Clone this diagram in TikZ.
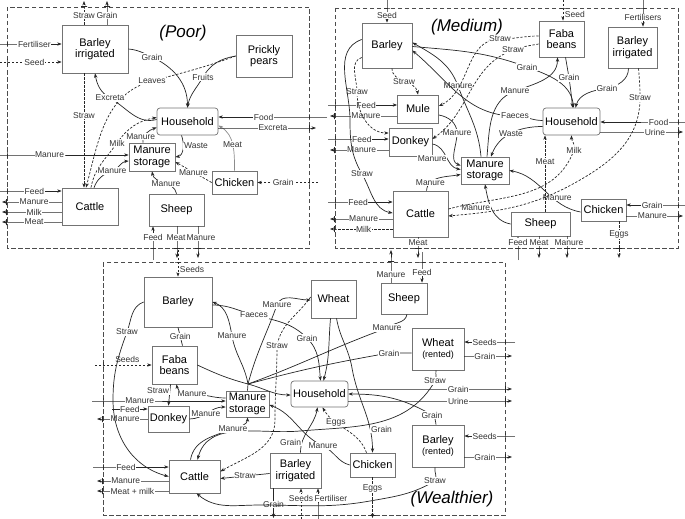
\documentclass[tikz,border=0pt]{standalone}
\usepackage{fontspec}
\setmainfont{Liberation Sans}
\usetikzlibrary{arrows.meta, calc}

\tikzset{
  box/.style={draw=black!55, line width=0.7pt, fill=white, align=center, inner sep=1pt,
    font=\fontsize{11}{11.5}\selectfont},
  hbox/.style={box, rounded corners=3pt},
  lbl/.style={fill=white, inner sep=0.6pt, text=black!80, font=\fontsize{8.5}{9}\selectfont},
  flow/.style={-{Stealth[length=4.5pt,width=3.4pt]}, line width=0.7pt, draw=black!85},
  dflow/.style={flow, dash pattern=on 2.4pt off 1.6pt},
  link/.style={line width=0.7pt, draw=black!85},
  tkh/.style={draw, solid, inner sep=0pt, minimum width=0pt, minimum height=6pt, line width=0.6pt},
  tkv/.style={draw, solid, inner sep=0pt, minimum width=6pt, minimum height=0pt, line width=0.6pt},
  frame/.style={draw=black!70, line width=0.9pt, dash pattern=on 4.5pt off 2.5pt},
  title/.style={font=\fontsize{17}{18}\selectfont\itshape}
}

\begin{document}
\begin{tikzpicture}[x=1pt, y=-1pt]
\useasboundingbox (0,0) rectangle (685,519);

% ---------------- poor farm
\draw[frame] (7,7) rectangle (309,248);
\node[title] (pTitle) at (183,33) {(Poor)};
\node[box, minimum width=66pt, minimum height=48pt] (pBarI) at (95,49) {Barley\\irrigated};
\node[box, minimum width=56pt, minimum height=42pt] (pPear) at (264,56) {Prickly\\pears};
\node[hbox, minimum width=61pt, minimum height=27pt] (pHouse) at (187.5,121.5) {Household};
\node[box, minimum width=46pt, minimum height=28pt] (pStore) at (152,157) {Manure\\storage};
\node[box, minimum width=45pt, minimum height=23pt] (pChick) at (234.5,182.5) {Chicken};
\node[box, minimum width=56pt, minimum height=37pt] (pCattle) at (90,206.5) {Cattle};
\node[box, minimum width=55pt, minimum height=32pt] (pSheep) at (176.5,210) {Sheep};

\coordinate (pInFert) at (0,44);
\coordinate (pInSeed) at (0,62);
\coordinate (pOutStraw) at (84,1);
\coordinate (pOutGrain) at (107,1);
\coordinate (pInFood) at (327,117);
\coordinate (pOutExcr) at (316,128);
\coordinate (pInGrain) at (318,182.5);
\coordinate (pInMan) at (0,155);
\coordinate (pInFeedC) at (0,191);
\coordinate (pOutManC) at (2,202);
\coordinate (pOutMilkC) at (2,212);
\coordinate (pOutMeatC) at (2,222);
\coordinate (pInFeedS) at (153,260);
\coordinate (pOutMeatS) at (177,258);
\coordinate (pOutManS) at (198,258);

\draw[flow] (pInFert) -- ++(7,0) node[tkh]{} -- node[lbl]{Fertiliser} (pInFert -| pBarI.west);
\draw[dflow] (pInSeed) -- ++(7,0) node[tkh]{} -- node[lbl]{Seed} (pInSeed -| pBarI.west);
\draw[dflow] (pOutStraw |- pBarI.north) -- node[lbl]{Straw} ++(0,-18) node[tkv]{} -- (pOutStraw);
\draw[flow] (pOutGrain |- pBarI.north) -- node[lbl]{Grain} ++(0,-18) node[tkv]{} -- (pOutGrain);
\draw[flow] (pBarI.east) to[out=-5,in=155] (152,57) node[lbl]{Grain} to[out=-25,in=90] (pHouse.north);
\draw[flow] (pPear.west) to[out=190,in=60] (203,77) node[lbl]{Fruits} to[out=240,in=80] (pHouse.north);
\draw[dflow] (pPear.west) to[out=200,in=15] (152,81) node[lbl]{Leaves} to[out=195,in=75] ([xshift=-4pt]pCattle.north);
\draw[dflow] (pOutStraw |- pBarI.south) -- node[lbl,pos=0.37]{Straw} (pOutStraw |- pCattle.north);
\draw[flow] ([yshift=2pt]pHouse.west) to[out=195,in=-30] (110,98) node[lbl]{Excreta} to[out=150,in=-80] (pBarI.south);
\draw[dflow] ([xshift=1pt]pCattle.north) to[out=80,in=235] (117,143) node[lbl]{Milk} to[out=55,in=190] ([yshift=4pt]pHouse.west);
\draw[flow] ([xshift=4pt]pCattle.north) to[out=70,in=200] (112,171) node[lbl]{Manure} to[out=20,in=185] ([yshift=-4pt]pStore.west);
\draw[flow] (pInMan) -- ++(7,0) node[tkh]{} -- node[lbl,pos=0.35]{Manure} (pInMan -| pStore.west);
\draw[flow] ([xshift=-9pt]pStore.north) to[out=100,in=200] node[lbl,pos=0.45,xshift=-5pt,yshift=-3pt]{Manure} ([yshift=-6pt]pHouse.west);
\draw[flow] ([xshift=-6pt]pHouse.south) to[out=-70,in=10] node[lbl,right,pos=0.4]{Waste} (pStore.east);
\draw[dflow] (pChick.west) -- node[lbl]{Manure} ([yshift=-5pt]pStore.east);
\draw[flow, draw=black!45] (pChick.north) to[out=90,in=-30] node[lbl]{Meat} ([yshift=-4pt]pHouse.east);
\draw[flow] (pInFood) -- ++(-18,0) node[tkh]{} -- node[lbl]{Food} (pInFood -| pHouse.east);
\draw[flow] (pHouse.east |- pOutExcr) -- node[lbl,pos=0.6]{Excreta} ++(91,0) node[tkh]{} -- (pOutExcr);
\draw[dflow] (pInGrain) -- ++(-9,0) node[tkh]{} -- node[lbl]{Grain} (pInGrain -| pChick.east);
\draw[flow] (pSheep.north) to[out=100,in=-80] node[lbl,pos=0.45]{Manure} (pStore.south);
\draw[flow] (pInFeedC) -- ++(7,0) node[tkh]{} -- node[lbl]{Feed} (pInFeedC -| pCattle.west);
\draw[flow] (pOutManC -| pCattle.west) -- node[lbl]{Manure} ++(-55,0) node[tkh]{} -- (pOutManC);
\draw[flow] (pOutMilkC -| pCattle.west) -- node[lbl]{Milk} ++(-55,0) node[tkh]{} -- (pOutMilkC);
\draw[flow] (pOutMeatC -| pCattle.west) -- node[lbl]{Meat} ++(-55,0) node[tkh]{} -- (pOutMeatC);
\draw[flow] (pInFeedS) -- ++(0,-12) node[tkv]{} -- node[lbl]{Feed} (pInFeedS |- pSheep.south);
\draw[flow] (pOutMeatS |- pSheep.south) -- node[lbl,xshift=-1pt]{Meat} ++(0,22) node[tkv]{} -- (pOutMeatS);
\draw[flow] (pOutManS |- pSheep.south) -- node[lbl,xshift=3pt]{Manure} ++(0,22) node[tkv]{} -- (pOutManS);

% ---------------- medium farm
\draw[frame] (335,8) rectangle (678,248);
\node[title] (mTitle) at (467,27) {(Medium)};
\node[box, minimum width=50pt, minimum height=45pt] (mBar) at (387,45.5) {Barley};
\node[box, minimum width=45pt, minimum height=36pt] (mFaba) at (561.5,39) {Faba\\beans};
\node[box, minimum width=49pt, minimum height=41pt] (mBarI) at (632.5,47.5) {Barley\\irrigated};
\node[box, minimum width=41pt, minimum height=28pt] (mMule) at (418,109) {Mule};
\node[box, minimum width=43pt, minimum height=28pt] (mDonkey) at (410.5,142) {Donkey};
\node[hbox, minimum width=57pt, minimum height=27pt] (mHouse) at (571.5,121.5) {Household};
\node[box, minimum width=48pt, minimum height=27pt] (mStore) at (485,170.5) {Manure\\storage};
\node[box, minimum width=55pt, minimum height=46pt] (mCattle) at (420.5,214) {Cattle};
\node[box, minimum width=59pt, minimum height=24pt] (mSheep) at (540.5,224) {Sheep};
\node[box, minimum width=45pt, minimum height=22pt] (mChick) at (603.5,210) {Chicken};

\coordinate (mInSeedB) at (387,0);
\coordinate (mInSeedF) at (563,0);
\coordinate (mInFert) at (643,0);
\coordinate (mInFeedM) at (328,105);
\coordinate (mOutManM) at (330,116);
\coordinate (mInFeedD) at (328,139);
\coordinate (mOutManD) at (330,150);
\coordinate (mInFeedC) at (328,202);
\coordinate (mOutManC) at (330,219);
\coordinate (mOutMilkC) at (330,229);
\coordinate (mOutMeatC) at (418,258);
\coordinate (mInFeedS) at (518,260);
\coordinate (mOutMeatS) at (539,258);
\coordinate (mOutManS) at (567,258);
\coordinate (mOutEggs) at (619,258);
\coordinate (mInFood) at (685,122);
\coordinate (mOutUrine) at (683,132);
\coordinate (mInGrain) at (685,205);
\coordinate (mOutManCh) at (683,216);

\draw[flow] (mInSeedB) -- ++(0,8) node[tkv]{} -- node[lbl]{Seed} (mInSeedB |- mBar.north);
\draw[dflow] (mInSeedF) -- ++(0,8) node[tkv]{} -- node[lbl,right=1pt]{Seed} (mInSeedF |- mFaba.north);
\draw[flow] (mInFert) -- ++(0,8) node[tkv]{} -- node[lbl]{Fertilisers} (mInFert |- mBarI.north);
\draw[flow] (mInFeedM) -- ++(7,0) node[tkh]{} -- node[lbl]{Feed} (mInFeedM -| mMule.west);
\draw[flow] (mOutManM -| mMule.west) -- node[lbl]{Manure} ++(-62.5,0) node[tkh]{} -- (mOutManM);
\draw[flow] (mInFeedD) -- ++(7,0) node[tkh]{} -- node[lbl]{Feed} (mInFeedD -| mDonkey.west);
\draw[flow] (mOutManD -| mDonkey.west) -- node[lbl]{Manure} ++(-54,0) node[tkh]{} -- (mOutManD);
\draw[flow] (mInFeedC) -- ++(7,0) node[tkh]{} -- node[lbl,pos=0.4]{Feed} (mInFeedC -| mCattle.west);
\draw[flow] (mOutManC -| mCattle.west) -- node[lbl]{Manure} ++(-58,0) node[tkh]{} -- (mOutManC);
\draw[dflow] (mOutMilkC -| mCattle.west) -- node[lbl]{Milk} ++(-58,0) node[tkh]{} -- (mOutMilkC);
\draw[flow] (mOutMeatC |- mCattle.south) -- node[lbl]{Meat} ++(0,11) node[tkv]{} -- (mOutMeatC);
\draw[flow] (mInFeedS) -- ++(0,-12) node[tkv]{} -- node[lbl]{Feed} (mInFeedS |- mSheep.south);
\draw[flow] (mOutMeatS |- mSheep.south) -- node[lbl]{Meat} ++(0,12) node[tkv]{} -- (mOutMeatS);
\draw[flow] (mOutManS |- mSheep.south) -- node[lbl,xshift=2pt]{Manure} ++(0,12) node[tkv]{} -- (mOutManS);
\draw[dflow] (mOutEggs |- mChick.south) -- node[lbl]{Eggs} ++(0,27) node[tkv]{} -- (mOutEggs);
\draw[flow] (mInFood) -- ++(-7,0) node[tkh]{} -- node[lbl,pos=0.25]{Food} (mInFood -| mHouse.east);
\draw[flow] (mHouse.east |- mOutUrine) -- node[lbl,pos=0.7]{Urine} ++(78,0) node[tkh]{} -- (mOutUrine);
\draw[flow] (mInGrain) -- ++(-7,0) node[tkh]{} -- node[lbl]{Grain} (mInGrain -| mChick.east);
\draw[flow] (mChick.east |- mOutManCh) -- node[lbl]{Manure} ++(52,0) node[tkh]{} -- (mOutManCh);

\draw[flow] ([yshift=-1pt]mBar.east) to[out=-5,in=160] (527,67) node[lbl]{Grain} to[out=-20,in=95] ([xshift=2pt]mHouse.north);
\draw[flow] ([xshift=-4pt]mStore.north) to[out=95,in=-70] (458,86) node[lbl]{Manure} to[out=110,in=-30] ([yshift=3pt]mBar.east);
\draw[flow] ([yshift=1pt]mHouse.west) to[out=180,in=0] (515,116) node[lbl]{Faeces} to[out=180,in=-40] ([yshift=-5pt]mBar.east);
\draw[flow] ([xshift=2pt]mStore.north) to[out=85,in=200] (515,91) node[lbl]{Manure} to[out=20,in=-90] ([xshift=-4pt]mFaba.south);
\draw[flow] ([xshift=4pt]mFaba.south) to[out=-80,in=95] node[lbl,pos=0.4]{Grain} ([xshift=1pt]mHouse.north);
\draw[flow] ([xshift=-4pt]mBarI.south) to[out=-90,in=10] (607,88) node[lbl]{Grain} to[out=190,in=75] ([xshift=4pt]mHouse.north);
\draw[flow] ([yshift=-5pt]mHouse.west) to[out=180,in=70] node[lbl]{Waste} ([xshift=6pt]mStore.north);
\draw[flow] ([yshift=-6pt]mMule.east) to[out=-10,in=90] (457,133) node[lbl]{Manure} to[out=-90,in=160] ([yshift=5pt]mStore.west);
\draw[flow] ([yshift=-2pt]mDonkey.east) to[out=-10,in=170] node[lbl,left,pos=0.55]{Manure} ([yshift=1pt]mStore.west);
\draw[flow] ([xshift=6pt]mCattle.north) to[out=85,in=190] node[lbl,pos=0.25]{Manure} ([yshift=-4pt]mStore.west);
\draw[flow] (mSheep.west) to[out=170,in=-80] node[lbl,left,pos=0.55]{Manure} (mStore.south);
\draw[flow] ([yshift=-2pt]mChick.west) to[out=170,in=-10] node[lbl,above,pos=0.3]{Manure} (mStore.east);
\draw[dflow] ([xshift=5pt]mBar.south) to[out=-90,in=100] node[lbl]{Straw} (mMule.north);
\draw[dflow] ([yshift=-12pt]mBar.west) to[out=200,in=90] (357,92) node[lbl]{Straw} to[out=-90,in=180] ([yshift=9pt]mDonkey.west);
\draw[flow] ([yshift=6pt]mBar.west) to[out=200,in=90] (350,120) to[out=-90,in=120] (362,174) node[lbl]{Straw} to[out=-60,in=170] ([yshift=1pt]mCattle.west);
\draw[dflow] ([yshift=3pt]mFaba.west) to[out=180,in=0] (500,39) node[lbl]{Straw} to[out=180,in=25] ([yshift=3pt]mMule.east);
\draw[dflow] ([yshift=-5pt]mFaba.west) to[out=190,in=20] (513,50) node[lbl]{Straw} to[out=200,in=35] ([yshift=3pt]mDonkey.east);
\draw[dflow] ([xshift=6pt]mBarI.south) to[out=-85,in=90] (640,98) node[lbl]{Straw} to[out=-90,in=30] (580,180) to[out=210,in=5] ([yshift=-2pt]mCattle.east);
\draw[dflow] ([yshift=5pt]mCattle.east) to[out=15,in=250] (574,150) node[lbl]{Milk} to[out=70,in=-90] (mHouse.south);
\draw[dflow] ([xshift=4.5pt]mSheep.north) -- node[lbl,pos=0.66]{Meat} ([xshift=4.5pt]mSheep.north |- mHouse.south);

% ---------------- wealthier farm
\draw[frame] (103,262) rectangle (505,515);
\node[title] (wTitle) at (452,499) {(Wealthier)};
\node[box, minimum width=68pt, minimum height=50pt] (wBar) at (178,302) {Barley};
\node[box, minimum width=45pt, minimum height=38pt] (wWheat) at (333.5,299) {Wheat};
\node[box, minimum width=46pt, minimum height=31pt] (wSheep) at (404,298.5) {Sheep};
\node[box, minimum width=45pt, minimum height=38pt] (wFaba) at (174.5,365) {Faba\\beans};
\node[box, minimum width=52pt, minimum height=42pt] (wWheatR) at (438,349) {Wheat\\{\small (rented)}};
\node[box, minimum width=43pt, minimum height=26pt] (wStore) at (247.5,404) {Manure\\storage};
\node[hbox, minimum width=57pt, minimum height=26pt] (wHouse) at (319.5,394) {Household};
\node[box, minimum width=41pt, minimum height=26pt] (wDonkey) at (168.5,419) {Donkey};
\node[box, minimum width=52pt, minimum height=42pt] (wBarR) at (438,446) {Barley\\{\small (rented)}};
\node[box, minimum width=45pt, minimum height=24pt] (wChick) at (372.5,465) {Chicken};
\node[box, minimum width=51pt, minimum height=33pt] (wCattle) at (194.5,476.5) {Cattle};
\node[box, minimum width=51pt, minimum height=35pt] (wBarI) at (295.5,470.5) {Barley\\irrigated};
\coordinate (wHub) at (248,384);

\coordinate (wInSeedB) at (178,250);
\coordinate (wInSeedF) at (95,365);
\coordinate (wInMan) at (92,401);
\coordinate (wInFeedD) at (112,409);
\coordinate (wOutManD) at (97,419);
\coordinate (wInFeedC) at (93,467);
\coordinate (wOutManC) at (97,481);
\coordinate (wOutMilk) at (97,491);
\coordinate (wOutManS) at (391,250);
\coordinate (wInFeedS) at (422,252);
\coordinate (wInSeedW) at (515,342);
\coordinate (wOutGrainW) at (512,356);
\coordinate (wOutGrain) at (512,389);
\coordinate (wOutUrine) at (512,401);
\coordinate (wInSeedBR) at (515,436);
\coordinate (wOutGrainBR) at (512,457);
\coordinate (wOutGrainBI) at (273.5,518);
\coordinate (wInSeedBI) at (301,519);
\coordinate (wInFertBI) at (318,519);
\coordinate (wOutEggs) at (372.5,518);

\draw[dflow] (wInSeedB) -- ++(0,12) node[tkv]{} -- node[lbl,right=1pt]{Seeds} (wInSeedB |- wBar.north);
\draw[dflow] (wInSeedF) -- ++(8,0) node[tkh]{} -- node[lbl,above=1pt]{Seeds} (wInSeedF -| wFaba.west);
\draw[flow] (wInMan) -- ++(11,0) node[tkh]{} -- node[lbl,pos=0.3]{Manure} (wInMan -| wStore.west);
\draw[flow] (wInFeedD) -- node[lbl]{Feed} (wInFeedD -| wDonkey.west);
\draw[flow] (wOutManD -| wDonkey.west) -- node[lbl]{Manure} ++(-45,0) node[tkh]{} -- (wOutManD);
\draw[flow] (wInFeedC) -- ++(10,0) node[tkh]{} -- node[lbl,pos=0.35]{Feed} (wInFeedC -| wCattle.west);
\draw[flow] (wOutManC -| wCattle.west) -- node[lbl,pos=0.65]{Manure} ++(-66,0) node[tkh]{} -- (wOutManC);
\draw[flow] (wOutMilk -| wCattle.west) -- node[lbl,pos=0.55]{Meat + milk} ++(-66,0) node[tkh]{} -- (wOutMilk);
\draw[flow] (wOutManS |- wSheep.north) -- node[lbl,pos=0.38]{Manure} ++(0,-21) node[tkv]{} -- (wOutManS);
\draw[flow] (wInFeedS) -- ++(0,10) node[tkv]{} -- node[lbl]{Feed} (wInFeedS |- wSheep.north);
\draw[flow] (wInSeedW) -- ++(-10,0) node[tkh]{} -- node[lbl]{Seeds} (wInSeedW -| wWheatR.east);
\draw[flow] (wWheatR.east |- wOutGrainW) -- node[lbl]{Grain} ++(41,0) node[tkh]{} -- (wOutGrainW);
\draw[flow] (wHouse.east |- wOutGrain) -- node[lbl,pos=0.7]{Grain} ++(157,0) node[tkh]{} -- (wOutGrain);
\draw[flow] (wHouse.east |- wOutUrine) -- node[lbl,pos=0.7]{Urine} ++(157,0) node[tkh]{} -- (wOutUrine);
\draw[flow] (wInSeedBR) -- ++(-10,0) node[tkh]{} -- node[lbl]{Seeds} (wInSeedBR -| wBarR.east);
\draw[flow] (wBarR.east |- wOutGrainBR) -- node[lbl]{Grain} ++(41,0) node[tkh]{} -- (wOutGrainBR);
\draw[flow] (wOutGrainBI |- wBarI.south) -- node[lbl,pos=0.6]{Grain} ++(0,27) node[tkv]{} -- (wOutGrainBI);
\draw[dflow] (wInSeedBI) -- ++(0,-4) node[tkv]{} -- node[lbl,pos=0.63]{Seeds} (wInSeedBI |- wBarI.south);
\draw[flow] (wInFertBI) -- ++(0,-4) node[tkv]{} -- node[lbl,pos=0.63,xshift=13pt]{Fertiliser} (wInFertBI |- wBarI.south);
\draw[dflow] (wOutEggs |- wChick.south) -- node[lbl,pos=0.29]{Eggs} ++(0,38) node[tkv]{} -- (wOutEggs);

\draw[flow] (wBar.west) to[out=200,in=70] (127,332) node[lbl]{Straw} to[out=250,in=90] (113,400) to[out=-90,in=165] (wCattle.west);
\draw[link] (wBar.south) -- node[lbl]{Grain} ([xshift=8pt]wFaba.north);
\draw[flow] ([xshift=-4pt]wFaba.south) to[out=-95,in=85] node[lbl,left,pos=0.3]{Straw} (wDonkey.north);
\draw[flow] ([yshift=6pt]wStore.west) to[out=180,in=0] (192,394) node[lbl]{Manure} to[out=180,in=-80] ([xshift=2pt]wFaba.south);
\draw[flow] (wDonkey.east) to[out=0,in=180] node[lbl,pos=0.45]{Manure} ([yshift=-3pt]wStore.west);
\draw[link] (wStore.north) -- (wHub);
\draw[flow] (wHub) to[out=100,in=-80] (232,336) node[lbl]{Manure} to[out=100,in=-20] (wBar.east);
\draw[flow] (wHub) to[out=75,in=250] (277,305) node[lbl]{Manure} to[out=70,in=180] ([yshift=-1pt]wWheat.west);
\draw[link] ([xshift=3pt]wSheep.south) to[out=-100,in=40] (387,328) node[lbl]{Manure} to[out=200,in=20] (wHub);
\draw[link] ([yshift=-4pt]wWheatR.west) -- (389,353) node[lbl]{Grain} to[out=190,in=15] (wHub);
\draw[flow] (wFaba.east) to[out=-25,in=165] (wHub) to[out=-15,in=180] ([yshift=-1pt]wHouse.west);
\draw[flow] ([yshift=-3pt]wBar.east) to[out=0,in=165] (254,315) node[lbl]{Faeces} to[out=-15,in=135] (307,338) node[lbl]{Grain} to[out=-45,in=95] ([xshift=1pt]wHouse.north);
\draw[flow] ([xshift=-3pt]wWheat.south) to[out=-95,in=75] ([xshift=4pt]wHouse.north);
\draw[flow] ([xshift=3pt]wWheat.south) to[out=-80,in=100] (352,368) to[out=-80,in=90] node[lbl,right,pos=0.75]{Grain} (wChick.north);
\draw[flow] ([xshift=-2pt]wBarR.north) to[out=100,in=-30] (432,415) node[lbl]{Grain} to[out=150,in=0] (wHouse.east);
\draw[flow] ([xshift=-2pt]wWheatR.south) to[out=-100,in=60] (435,381) node[lbl]{Straw} to[out=240,in=5] (300,431) to[out=185,in=75] ([xshift=3pt]wCattle.north);
\draw[flow] ([xshift=-4pt]wCattle.north) to[out=80,in=200] (233,429) node[lbl]{Manure} to[out=20,in=-90] (wStore.south);
\draw[dflow] ([yshift=2pt]wWheat.west) to[out=235,in=80] (277,346) node[lbl]{Straw} to[out=-90,in=90] (275,420) to[out=-90,in=30] ([yshift=5pt]wCattle.east);
\draw[flow] ([yshift=-3pt]wBarI.west) -- node[lbl]{Straw} ([yshift=-2pt]wCattle.east);
\draw[flow] ([xshift=5pt]wBarI.north) to[out=90,in=-100] node[lbl,left,pos=0.2]{Grain} ([xshift=-2pt]wHouse.south);
\draw[dflow] ([xshift=-6pt]wChick.north) to[out=110,in=-60] node[lbl,pos=0.7]{Eggs} ([xshift=3pt]wHouse.south);
\draw[flow] (wChick.west) to[out=165,in=-25] (323,446) node[lbl]{Manure} to[out=155,in=-20] ([yshift=-1pt]wStore.east);
\draw[flow] ([xshift=-3pt]wBarR.south) to[out=-100,in=60] (435,481) node[lbl]{Straw} to[out=210,in=10] (370,501) to[out=190,in=0] (260,505) to[out=180,in=-40] ([xshift=2pt]wCattle.south);
\end{tikzpicture}
\end{document}
